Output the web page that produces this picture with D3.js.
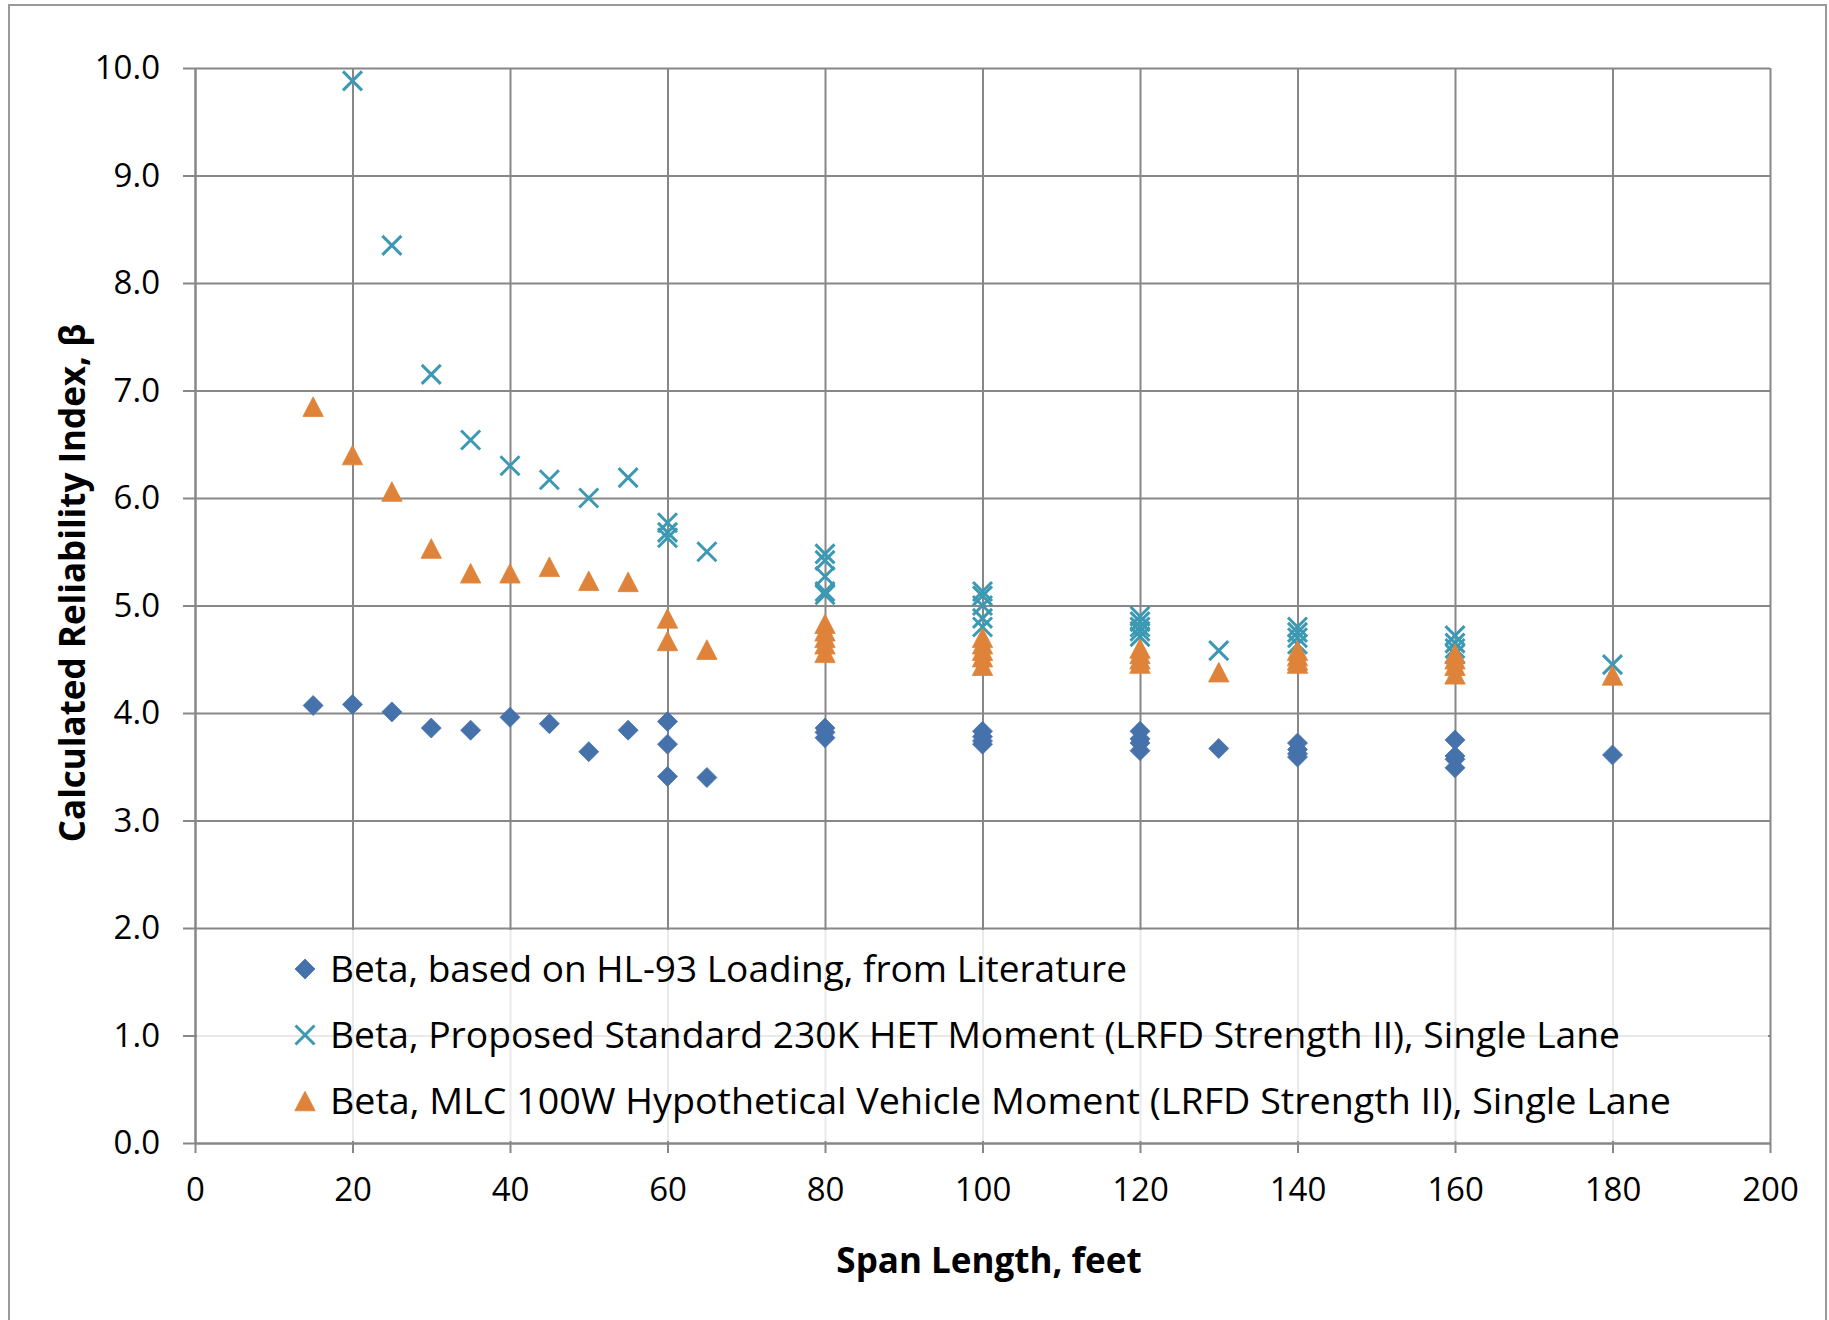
<!DOCTYPE html>
<html>
<head>
<meta charset="utf-8">
<script src="https://cdn.jsdelivr.net/npm/d3@7"></script>
<style>
  html, body { margin: 0; padding: 0; background: #ffffff; }
  svg { display: block; }
  text { font-family: "Open Sans", "Noto Sans", sans-serif; fill: #000; }
</style>
</head>
<body>
<svg id="chart" width="1829" height="1320"></svg>
<script>
// ---------------- DATA ----------------
const xTicks = [0, 20, 40, 60, 80, 100, 120, 140, 160, 180, 200];
const yTicks = [0, 1, 2, 3, 4, 5, 6, 7, 8, 9, 10];

const seriesNames = [
  "Beta, based on HL-93 Loading, from Literature",
  "Beta, Proposed Standard 230K HET Moment (LRFD Strength II), Single Lane",
  "Beta, MLC 100W Hypothetical Vehicle Moment (LRFD Strength II), Single Lane"
];

// Series 1: HL-93 (diamonds)
const hl93Span = [15, 20, 25, 30, 35, 40, 45, 50, 55, 60, 60, 60, 65,
  80, 80, 80, 100, 100, 100, 100, 120, 120, 120, 120, 130,
  140, 140, 140, 140, 160, 160, 160, 160, 180];
const hl93Beta = [4.07, 4.08, 4.01, 3.86, 3.84, 3.96, 3.90, 3.64, 3.84, 3.92, 3.71, 3.41, 3.40,
  3.86, 3.82, 3.77, 3.83, 3.78, 3.74, 3.71, 3.83, 3.76, 3.72, 3.65, 3.67,
  3.72, 3.66, 3.62, 3.59, 3.75, 3.60, 3.57, 3.49, 3.61];

// Series 2: 230K HET (crosses)
const hetSpan = [20, 25, 30, 35, 40, 45, 50, 55, 60, 60, 60, 65,
  80, 80, 80, 80, 80, 100, 100, 100, 100, 100, 120, 120, 120, 120, 120, 130,
  140, 140, 140, 140, 160, 160, 160, 160, 180];
const hetBeta = [9.88, 8.35, 7.15, 6.54, 6.30, 6.17, 6.00, 6.19, 5.77, 5.68, 5.63, 5.50,
  5.48, 5.42, 5.27, 5.13, 5.10, 5.13, 5.09, 5.00, 4.88, 4.80, 4.90, 4.85, 4.80, 4.76, 4.71, 4.58,
  4.80, 4.75, 4.70, 4.64, 4.72, 4.65, 4.60, 4.55, 4.45];

// Series 3: MLC 100W (triangles)
const mlcSpan = [15, 20, 25, 30, 35, 40, 45, 50, 55, 60, 60, 65,
  80, 80, 80, 80, 80, 100, 100, 100, 100, 100, 120, 120, 120, 120, 130,
  140, 140, 140, 140, 160, 160, 160, 160, 180];
const mlcBeta = [6.85, 6.40, 6.06, 5.53, 5.30, 5.30, 5.36, 5.23, 5.22, 4.88, 4.67, 4.59,
  4.83, 4.76, 4.70, 4.64, 4.56, 4.70, 4.64, 4.58, 4.52, 4.44, 4.60, 4.55, 4.50, 4.46, 4.38,
  4.58, 4.53, 4.49, 4.46, 4.55, 4.50, 4.44, 4.36, 4.35];

const xTitle = "Span Length, feet";
const yTitle = "Calculated Reliability Index, \u03B2";

// ---------------- STYLE ----------------
const colors = ["#4672AC", "#3C99B3", "#DE8339"];
const gridColor = "#878787";
const legendTextWidths = [797, 1290, 1341];

// ---------------- LAYOUT ----------------
const svg = d3.select("#chart");
const plot = { left: 195, right: 1770, top: 68, bottom: 1143 };

const x = d3.scaleLinear().domain([0, 200]).range([plot.left, plot.right]);
const y = d3.scaleLinear().domain([0, 10]).range([plot.bottom, plot.top]);

// outer chart border
svg.append("rect")
  .attr("x", 9).attr("y", 5).attr("width", 1817).attr("height", 1340)
  .attr("fill", "#fff").attr("stroke", "#9a9a9a").attr("stroke-width", 2);

// gridlines
const gGridY = svg.append("g").attr("transform", `translate(${plot.left},0)`)
  .call(d3.axisLeft(y).tickValues(yTicks).tickSize(-(plot.right - plot.left)).tickFormat(""));
gGridY.select(".domain").remove();
gGridY.selectAll("line").attr("stroke", gridColor).attr("stroke-width", 2);

const gGridX = svg.append("g").attr("transform", `translate(0,${plot.bottom})`)
  .call(d3.axisBottom(x).tickValues(xTicks).tickSize(-(plot.bottom - plot.top)).tickFormat(""));
gGridX.select(".domain").remove();
gGridX.selectAll("line").attr("stroke", gridColor).attr("stroke-width", 2);

// legend background (semi-transparent, inside plot)
const legendTop = y(2) + 2, legendBottom = y(0) - 2;
svg.append("rect")
  .attr("x", plot.left + 2).attr("y", legendTop)
  .attr("width", plot.right - plot.left - 4).attr("height", legendBottom - legendTop)
  .attr("fill", "#fff").attr("fill-opacity", 0.82);

// axes with ticks & labels
const gY = svg.append("g").attr("transform", `translate(${plot.left},0)`)
  .call(d3.axisLeft(y).tickValues(yTicks).tickFormat(d3.format(".1f")).tickSize(12).tickPadding(23).tickSizeOuter(0));
gY.select(".domain").attr("stroke", gridColor).attr("stroke-width", 2);
gY.selectAll("line").attr("stroke", gridColor).attr("stroke-width", 2);
gY.selectAll("text").attr("font-size", 33).attr("font-family", "Open Sans").attr("fill", "#000");

const gX = svg.append("g").attr("transform", `translate(0,${plot.bottom})`)
  .call(d3.axisBottom(x).tickValues(xTicks).tickSize(10).tickPadding(25).tickSizeOuter(0));
gX.select(".domain").attr("stroke", gridColor).attr("stroke-width", 2);
gX.selectAll("line").attr("stroke", gridColor).attr("stroke-width", 2);
gX.selectAll("text").attr("font-size", 33).attr("font-family", "Open Sans").attr("fill", "#000");

// axis titles
svg.append("text")
  .attr("x", 989).attr("y", 1261).attr("dy", "0.35em")
  .attr("text-anchor", "middle").attr("font-weight", "bold").attr("font-size", 35)
  .text(xTitle);

svg.append("text")
  .attr("transform", "translate(73,583) rotate(-90)").attr("dy", "0.35em")
  .attr("text-anchor", "middle").attr("font-weight", "bold").attr("font-size", 35)
  .text(yTitle);

// ---------------- MARKERS ----------------
const diamondPath = "M0,-10L10,0L0,10L-10,0Z";
const crossPath = "M-9.5,-9.5L9.5,9.5M-9.5,9.5L9.5,-9.5";
const trianglePath = "M0,-9.8L10.2,9.8L-10.2,9.8Z";

function drawDiamond(g, cx, cy) {
  g.append("path").attr("d", diamondPath).attr("transform", `translate(${cx},${cy})`)
    .attr("fill", colors[0]).attr("stroke", colors[0]).attr("stroke-width", 0.8);
}
function drawCross(g, cx, cy) {
  g.append("path").attr("d", crossPath).attr("transform", `translate(${cx},${cy})`)
    .attr("fill", "none").attr("stroke", colors[1]).attr("stroke-width", 3);
}
function drawTriangle(g, cx, cy) {
  g.append("path").attr("d", trianglePath).attr("transform", `translate(${cx},${cy})`)
    .attr("fill", colors[2]).attr("stroke", colors[2]).attr("stroke-width", 0.8);
}

const gMarks = svg.append("g");
hl93Span.forEach((s, i) => drawDiamond(gMarks, x(s), y(hl93Beta[i])));
hetSpan.forEach((s, i) => drawCross(gMarks, x(s), y(hetBeta[i])));
mlcSpan.forEach((s, i) => drawTriangle(gMarks, x(s), y(mlcBeta[i])));

// ---------------- LEGEND ----------------
const legendRows = [969, 1035, 1101];
const legendMarkerX = 305, legendTextX = 330;
const drawers = [drawDiamond, drawCross, drawTriangle];
const gLeg = svg.append("g");
seriesNames.forEach((name, i) => {
  drawers[i](gLeg, legendMarkerX, legendRows[i]);
  gLeg.append("text")
    .attr("x", legendTextX).attr("y", legendRows[i]).attr("dy", "0.36em")
    .attr("font-size", 36)
    .attr("textLength", legendTextWidths[i]).attr("lengthAdjust", "spacingAndGlyphs")
    .text(name);
});
</script>
</body>
</html>
